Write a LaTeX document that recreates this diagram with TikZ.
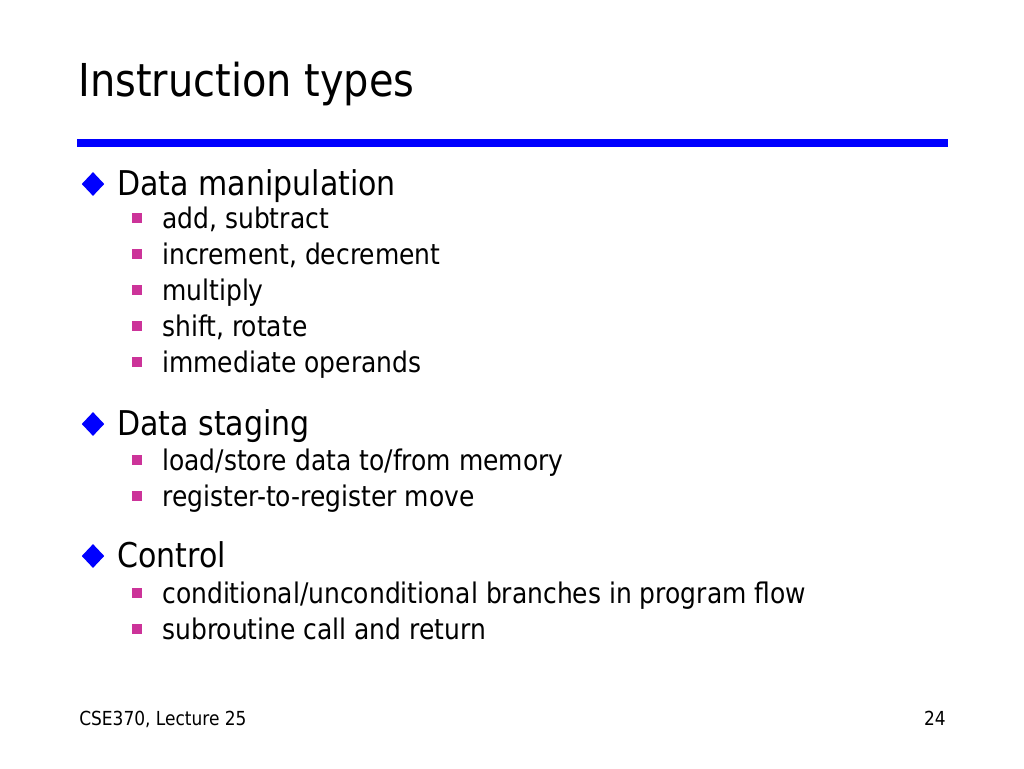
\documentclass[tikz,border=0pt]{standalone}
\usepackage{fontspec}
\setmainfont{DejaVu Sans}[FakeStretch=0.88]
\usetikzlibrary{shapes,arrows}
\definecolor{ruleblue}{RGB}{0,0,255}
\definecolor{bulletpink}{RGB}{204,51,153}

\begin{document}
\begin{tikzpicture}[x=0.75pt,y=-0.75pt,
  title/.style={anchor=base west,inner sep=0pt,font=\fontsize{34}{40}\selectfont},
  top/.style={anchor=base west,inner sep=0pt,font=\fontsize{25.6}{30}\selectfont},
  sub/.style={anchor=base west,inner sep=0pt,font=\fontsize{21.3}{25}\selectfont},
  foot/.style={inner sep=0pt,font=\fontsize{14.5}{17}\selectfont},
  dia/.style={diamond,fill=ruleblue,inner sep=0pt,minimum width=17pt,minimum height=18pt},
  sq/.style={rectangle,fill=bulletpink,inner sep=0pt,minimum size=7.8pt}]

  \useasboundingbox (0,0) rectangle (1024,768);
  \fill[white] (0,0) rectangle (1024,768);

  \node[title] (t0) at (78,96) {Instruction types};
  \fill[ruleblue] (77,139) rectangle (948,147);

  \node[dia] (d1) at (93,184) {};
  \node[top] (l1) at (117,195) {Data manipulation};
  \node[sq] (s1) at (137,218) {};
  \node[sub] (m1) at (162,228) {add, subtract};
  \node[sq] (s2) at (137,254) {};
  \node[sub] (m2) at (162,264) {increment, decrement};
  \node[sq] (s3) at (137,290) {};
  \node[sub] (m3) at (162,300) {multiply};
  \node[sq] (s4) at (137,326) {};
  \node[sub] (m4) at (162,336) {shift, rotate};
  \node[sq] (s5) at (137,362) {};
  \node[sub] (m5) at (162,372) {immediate operands};

  \node[dia] (d2) at (93,424) {};
  \node[top] (l2) at (117,435) {Data staging};
  \node[sq] (s6) at (137,460) {};
  \node[sub] (m6) at (162,470) {load/store data to/from memory};
  \node[sq] (s7) at (137,496) {};
  \node[sub] (m7) at (162,506) {register-to-register move};

  \node[dia] (d3) at (93,556) {};
  \node[top] (l3) at (117,567) {Control};
  \node[sq] (s8) at (137,593) {};
  \node[sub] (m8) at (162,603) {conditional/unconditional branches in program flow};
  \node[sq] (s9) at (137,629) {};
  \node[sub] (m9) at (162,639) {subroutine call and return};

  \node[foot,anchor=base west] (f1) at (79,725) {CSE370, Lecture 25};
  \node[foot,anchor=base east] (f2) at (946,725) {24};

\end{tikzpicture}
\end{document}
